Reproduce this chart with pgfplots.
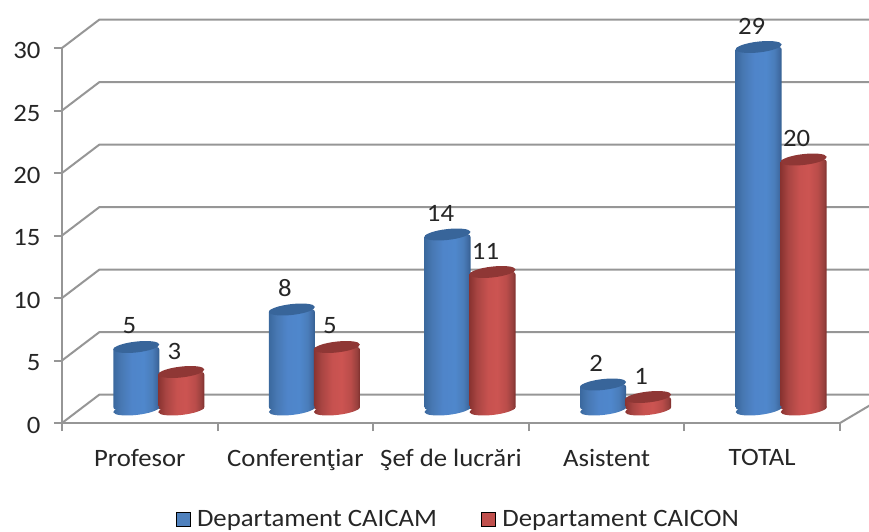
\documentclass[border=0pt]{standalone}
\usepackage{fontspec}
\setmainfont[FakeStretch=1.07]{Carlito}
\usepackage{pgfplots}
\usepackage{pgfplotstable}
\pgfplotsset{compat=1.18}

\definecolor{gridgray}{HTML}{969696}
\definecolor{txt}{HTML}{262626}
\definecolor{bluekey}{HTML}{4F81BD}
\definecolor{redkey}{HTML}{C0504D}
\definecolor{bluetopc}{HTML}{38659A}
\definecolor{redtopc}{HTML}{8F3735}

\pgfdeclarehorizontalshading{bluecyl}{100bp}{rgb(0bp)=(0.23,0.41,0.62);rgb(25bp)=(0.23,0.41,0.62);rgb(33bp)=(0.28,0.47,0.70);rgb(45bp)=(0.31,0.52,0.79);rgb(58bp)=(0.31,0.53,0.80);rgb(67bp)=(0.29,0.49,0.73);rgb(72bp)=(0.25,0.42,0.64);rgb(75bp)=(0.20,0.37,0.56);rgb(100bp)=(0.20,0.37,0.56)}
\pgfdeclarehorizontalshading{redcyl}{100bp}{rgb(0bp)=(0.54,0.20,0.19);rgb(25bp)=(0.54,0.20,0.19);rgb(33bp)=(0.66,0.27,0.26);rgb(45bp)=(0.78,0.32,0.31);rgb(55bp)=(0.80,0.33,0.32);rgb(65bp)=(0.73,0.30,0.29);rgb(72bp)=(0.59,0.25,0.24);rgb(75bp)=(0.49,0.18,0.17);rgb(100bp)=(0.49,0.18,0.17)}

\pgfdeclareplotmark{bluetop}{\pgfpathellipse{\pgfpointorigin}{\pgfqpoint{23pt}{2.6pt}}{\pgfqpoint{-0.6pt}{5.4pt}}\pgfsetfillcolor{bluetopc}\pgfusepathqfill}
\pgfdeclareplotmark{redtop}{\pgfpathellipse{\pgfpointorigin}{\pgfqpoint{23pt}{2.6pt}}{\pgfqpoint{-0.6pt}{5.4pt}}\pgfsetfillcolor{redtopc}\pgfusepathqfill}
\pgfdeclareplotmark{bluebot}{\pgfpathellipse{\pgfpointorigin}{\pgfqpoint{23pt}{2.6pt}}{\pgfqpoint{-0.6pt}{5.4pt}}\pgfshadepath{bluecyl}{0}\pgfusepath{discard}}
\pgfdeclareplotmark{redbot}{\pgfpathellipse{\pgfpointorigin}{\pgfqpoint{23pt}{2.6pt}}{\pgfqpoint{-0.6pt}{5.4pt}}\pgfshadepath{redcyl}{0}\pgfusepath{discard}}

\pgfplotstableread{
x   caicam caicon
0.5 5  3
1.5 8  5
2.5 14 11
3.5 2  1
4.5 29 20
}\datatable

\newcommand{\lbl}{\fontsize{25}{30}\selectfont}

\begin{document}
\begin{tikzpicture}
\path[use as bounding box] (-62pt,-108pt) rectangle (807pt,423pt);
\begin{axis}[
  scale only axis, width=778pt, height=375pt,
  xmin=0, xmax=5, ymin=0, ymax=30,
  clip=false,
  axis x line=bottom, axis y line=left,
  axis line style={-, gridgray, line width=2pt},
  every tick/.style={gridgray, line width=2pt},
  tick align=outside, major tick length=8pt,
  xtick={0,1,2,3,4,5},
  x tick label as interval,
  xticklabels={Profesor,Conferenţiar,Şef de lucrări,Asistent,TOTAL},
  ytick={0,5,10,15,20,25,30},
  tick label style={font=\lbl, text=txt},
  x tick label style={yshift=-15pt},
  y tick label style={xshift=-10pt, yshift=-2.5pt},
  /pgf/number format/assume math mode=true,
  legend columns=2,
  legend cell align=left,
  legend style={draw=none, fill=none, font=\lbl, text=txt, at={(0.5093,-0.256)}, anchor=center, /tikz/every even column/.append style={column sep=42pt}},
  legend image code/.code={\fill[#1] (0pt,-7pt) rectangle (14pt,7pt); \path (19pt,0pt);},
]
% floor and back wall lines
\addplot[gridgray, line width=2pt, forget plot] coordinates {(0,0) (0.241,2.28) (5.19,2.28)};
\addplot[gridgray, line width=2pt, forget plot] coordinates {(0,5) (0.241,7.28) (5.19,7.28)};
\addplot[gridgray, line width=2pt, forget plot] coordinates {(0,10) (0.241,12.28) (5.19,12.28)};
\addplot[gridgray, line width=2pt, forget plot] coordinates {(0,15) (0.241,17.28) (5.19,17.28)};
\addplot[gridgray, line width=2pt, forget plot] coordinates {(0,20) (0.241,22.28) (5.19,22.28)};
\addplot[gridgray, line width=2pt, forget plot] coordinates {(0,25) (0.241,27.28) (5.19,27.28)};
\addplot[gridgray, line width=2pt, forget plot] coordinates {(0,30) (0.241,32.28) (5.19,32.28)};
\addplot[gridgray, line width=2pt, forget plot] coordinates {(5,0) (5.19,1.4)};
% one plot for each cylinder, so that each bar gets its own shading
\pgfplotsinvokeforeach{0,1,2,3,4}{
  \addplot[only marks, mark=bluebot, xshift=-3.5pt, yshift=13.5pt, forget plot, restrict x to domain=#1:#1.9] table[x=x, y expr=0] {\datatable};
  \addplot[ybar, bar width=46pt, bar shift=0pt, draw=none, shading=bluecyl, rounded corners=2.5pt, xshift=-3.5pt, yshift=13.5pt, forget plot, restrict x to domain=#1:#1.9] table[x=x, y=caicam] {\datatable};
  \addplot[only marks, mark=bluetop, xshift=-3.5pt, yshift=13.5pt, forget plot, restrict x to domain=#1:#1.9,
    nodes near coords, every node near coord/.style={font=\lbl, text=txt, anchor=center, xshift=-7pt, yshift=21pt}] table[x=x, y=caicam] {\datatable};
  \addplot[only marks, mark=redbot, xshift=41.5pt, yshift=13.5pt, forget plot, restrict x to domain=#1:#1.9] table[x=x, y expr=0] {\datatable};
  \addplot[ybar, bar width=46pt, bar shift=0pt, draw=none, shading=redcyl, rounded corners=2.5pt, xshift=41.5pt, yshift=13.5pt, forget plot, restrict x to domain=#1:#1.9] table[x=x, y=caicon] {\datatable};
  \addplot[only marks, mark=redtop, xshift=41.5pt, yshift=13.5pt, forget plot, restrict x to domain=#1:#1.9,
    nodes near coords, every node near coord/.style={font=\lbl, text=txt, anchor=center, xshift=-7pt, yshift=21pt}] table[x=x, y=caicon] {\datatable};
}
\addlegendimage{fill=bluekey}
\addlegendentry{Departament CAICAM}
\addlegendimage{fill=redkey}
\addlegendentry{Departament CAICON}
\end{axis}
\end{tikzpicture}
\end{document}
